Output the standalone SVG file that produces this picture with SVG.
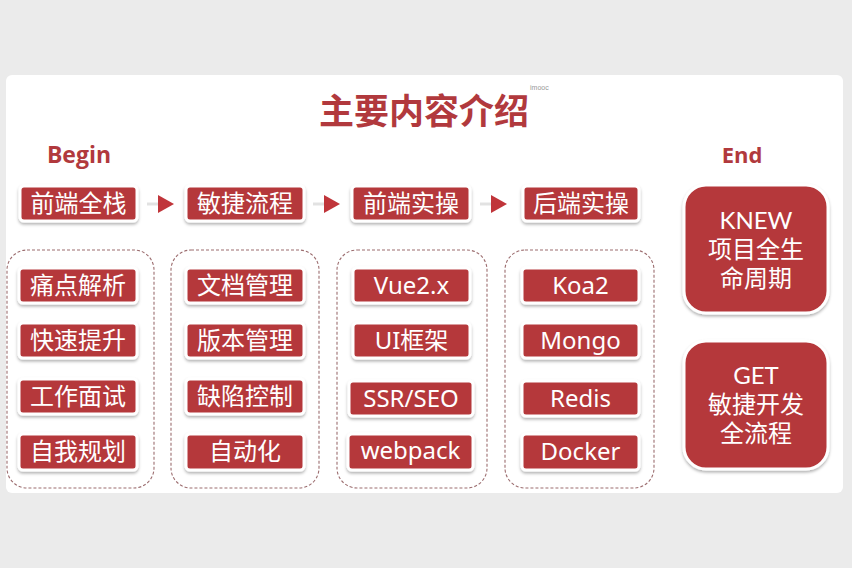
<svg xmlns="http://www.w3.org/2000/svg" width="852" height="568" viewBox="0 0 852 568">
<defs>
<filter id="sh" x="-20%" y="-30%" width="140%" height="170%">
<feDropShadow dx="0" dy="2" stdDeviation="1.5" flood-color="#000" flood-opacity="0.3"/>
</filter>
<style>
.box{fill:#b5373a;stroke:#fff;stroke-width:3;filter:url(#sh)}
.t{fill:#fff;font-family:"Noto Sans","Noto Sans CJK SC",sans-serif;font-size:24px;text-anchor:middle}
.e{fill:#fff;font-family:Lato,"Noto Sans CJK SC",sans-serif;font-size:24px;text-anchor:middle}
.grp{fill:none;stroke:#9c6d6f;stroke-width:1.1;stroke-dasharray:3 2}
.hd{fill:#b1393d;font-family:"Open Sans","Noto Sans CJK SC",sans-serif;font-weight:bold;text-anchor:middle}
.arr{fill:#c0353a}
.arl{stroke:#e2e2e2;stroke-width:3}
</style>
</defs>
<rect width="852" height="568" fill="#ebebeb"/>
<rect x="6" y="75" width="837" height="418" rx="6" fill="#fff"/>
<text x="424" y="124" class="hd" style="font-size:35px;font-family:'Noto Sans CJK SC',sans-serif">主要内容介绍</text>
<text x="530" y="90" style="font-family:'Liberation Sans',sans-serif;font-size:7px;fill:#999">imooc</text>
<text x="79" y="163" class="hd" style="font-size:23px">Begin</text>
<text x="742" y="163" class="hd" style="font-size:22px">End</text>

<g id="connectors">
<line class="arl" x1="147" y1="204" x2="158" y2="204"/><polygon class="arr" points="158,195 174,204 158,213"/>
<line class="arl" x1="313" y1="204" x2="324" y2="204"/><polygon class="arr" points="324,195 340,204 324,213"/>
<line class="arl" x1="480" y1="204" x2="491" y2="204"/><polygon class="arr" points="491,195 507,204 491,213"/>
</g>

<g id="n-qdqz"><rect class="box" x="20" y="186" width="117" height="35" rx="4"/><text class="t" x="78.5" y="212">前端全栈</text></g>
<g id="n-mjlc"><rect class="box" x="186" y="186" width="118" height="35" rx="4"/><text class="t" x="245" y="212">敏捷流程</text></g>
<g id="n-qdsc"><rect class="box" x="352" y="186" width="118" height="35" rx="4"/><text class="t" x="411" y="212">前端实操</text></g>
<g id="n-hdsc"><rect class="box" x="523" y="186" width="116" height="35" rx="4"/><text class="t" x="581" y="212">后端实操</text></g>

<g id="g1"><rect class="grp" x="7" y="250" width="147" height="238" rx="20"/></g>
<g id="g2"><rect class="grp" x="171" y="250" width="148" height="238" rx="20"/></g>
<g id="g3"><rect class="grp" x="337" y="250" width="150" height="238" rx="20"/></g>
<g id="g4"><rect class="grp" x="505" y="250" width="149" height="238" rx="20"/></g>

<g id="n-tdjx"><rect class="box" x="19" y="268" width="118" height="35" rx="4"/><text class="t" x="78" y="294">痛点解析</text></g>
<g id="n-ksts"><rect class="box" x="19" y="323" width="118" height="35" rx="4"/><text class="t" x="78" y="349">快速提升</text></g>
<g id="n-gzms"><rect class="box" x="19" y="379" width="118" height="35" rx="4"/><text class="t" x="78" y="405">工作面试</text></g>
<g id="n-zwgh"><rect class="box" x="19" y="434" width="118" height="36" rx="4"/><text class="t" x="78" y="460">自我规划</text></g>

<g id="n-wdgl"><rect class="box" x="186" y="268" width="118" height="35" rx="4"/><text class="t" x="245" y="294">文档管理</text></g>
<g id="n-bbgl"><rect class="box" x="186" y="323" width="118" height="35" rx="4"/><text class="t" x="245" y="349">版本管理</text></g>
<g id="n-qxkz"><rect class="box" x="186" y="379" width="118" height="35" rx="4"/><text class="t" x="245" y="405">缺陷控制</text></g>
<g id="n-zdh"><rect class="box" x="186" y="434" width="118" height="36" rx="4"/><text class="t" x="245" y="460">自动化</text></g>

<g id="n-vue"><rect class="box" x="353" y="268" width="117" height="35" rx="4"/><text class="t" x="411.5" y="294">Vue2.x</text></g>
<g id="n-ui"><rect class="box" x="353" y="323" width="117" height="35" rx="4"/><text class="t" x="411.5" y="349">UI框架</text></g>
<g id="n-ssr"><rect class="box" x="349" y="381" width="124" height="35" rx="4"/><text class="t" x="411" y="407">SSR/SEO</text></g>
<g id="n-webpack"><rect class="box" x="348" y="434" width="125" height="36" rx="4"/><text class="t" x="410.5" y="459">webpack</text></g>

<g id="n-koa"><rect class="box" x="522" y="268" width="117" height="35" rx="4"/><text class="t" x="580.5" y="294">Koa2</text></g>
<g id="n-mongo"><rect class="box" x="522" y="323" width="117" height="35" rx="4"/><text class="t" x="580.5" y="349">Mongo</text></g>
<g id="n-redis"><rect class="box" x="522" y="381" width="117" height="35" rx="4"/><text class="t" x="580.5" y="407">Redis</text></g>
<g id="n-docker"><rect class="box" x="522" y="434" width="117" height="36" rx="4"/><text class="t" x="580.5" y="460">Docker</text></g>

<g id="n-knew"><rect class="box" x="684" y="185" width="144" height="128" rx="22"/>
<text class="e" x="756" y="229">KNEW</text><text class="e" x="756" y="258">项目全生</text><text class="e" x="756" y="287">命周期</text></g>
<g id="n-get"><rect class="box" x="684" y="341" width="144" height="128" rx="22"/>
<text class="e" x="756" y="384">GET</text><text class="e" x="756" y="413">敏捷开发</text><text class="e" x="756" y="442">全流程</text></g>
</svg>
